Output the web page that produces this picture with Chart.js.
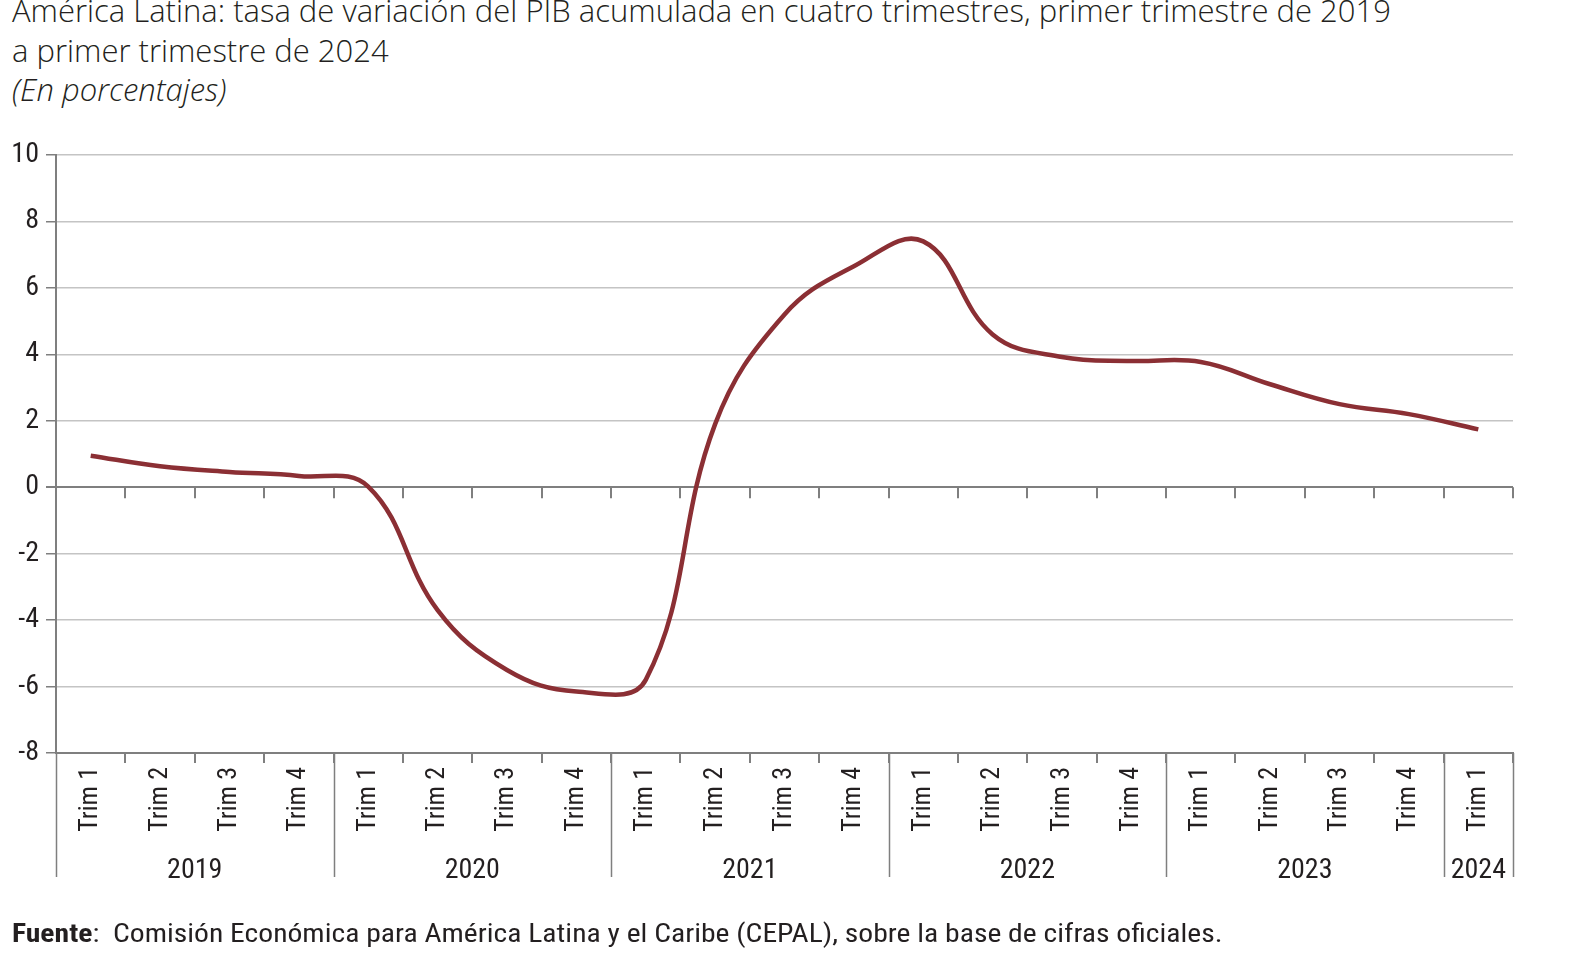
<!DOCTYPE html>
<html>
<head>
<meta charset="utf-8">
<script src="https://cdn.jsdelivr.net/npm/chart.js@4/dist/chart.umd.min.js"></script>
<style>
  body { margin: 0; background: #fff; width: 1589px; height: 964px; overflow: hidden; position: relative; }
  #grafico { position: absolute; left: 0; top: 0; }
  .titulo { position: absolute; left: 12px; font-family: 'Open Sans', sans-serif; font-weight: 300; font-size: 31px; line-height: 31px; color: #231f20; white-space: nowrap; }
  .nota { position: absolute; left: 12px; top: 920px; font-family: Roboto, sans-serif; font-stretch: condensed; font-size: 26px; line-height: 26px; color: #231f20; white-space: nowrap; transform: scaleX(1.14); transform-origin: 0 0; }
</style>
</head>
<body>
<div class="titulo" style="top:-5px">América Latina: tasa de variación del PIB acumulada en cuatro trimestres, primer trimestre de 2019</div>
<div class="titulo" style="top:35px">a primer trimestre de 2024</div>
<div class="titulo" style="top:74px; font-style:italic">(En porcentajes)</div>
<canvas id="grafico" width="1589" height="964"></canvas>
<div class="nota"><b>Fuente</b>:&nbsp; Comisión Económica para América Latina y el Caribe (CEPAL), sobre la base de cifras oficiales.</div>

<script>
// trimestres (eje x) y años que los agrupan
const trimestres = ['Trim 1','Trim 2','Trim 3','Trim 4',
                    'Trim 1','Trim 2','Trim 3','Trim 4',
                    'Trim 1','Trim 2','Trim 3','Trim 4',
                    'Trim 1','Trim 2','Trim 3','Trim 4',
                    'Trim 1','Trim 2','Trim 3','Trim 4',
                    'Trim 1'];
const anios = ['2019','2020','2021','2022','2023','2024'];
const trimPorAnio = [4, 4, 4, 4, 4, 1];

// tasa de variacion del PIB (%)
const pib = [0.95, 0.63, 0.46, 0.34,
             0.02, -3.7, -5.5, -6.15,
             -5.8, 1.9, 5.2, 6.65,
             7.4, 4.6, 3.92, 3.8,
             3.77, 3.1, 2.5, 2.2,
             1.74];

const yMin = -8, yMax = 10, yPaso = 2;

const FUENTE = 'Roboto, sans-serif';
const GRIS_EJE = '#7f7f7f';
const GRIS_GRILLA = '#c4c4c4';
const TEXTO = '#231f20';

// marcas del eje en 0, lineas separadoras de años y etiquetas de año
const marcasAnios = {
	id: 'marcasAnios',
	beforeDatasetsDraw(chart) {
		const ctx = chart.ctx;
		const xs = chart.scales.x;
		const ys = chart.scales.y;
		const area = chart.chartArea;
		const y0 = ys.getPixelForValue(0);
		const yBase = area.bottom;
		const n = trimestres.length;

		// borde entre categoria k-1 y k
		function borde(k) {
			if (k <= 0) return area.left;
			if (k >= n) return area.right;
			return (xs.getPixelForValue(k - 1) + xs.getPixelForValue(k)) / 2;
		}

		ctx.save();
		ctx.strokeStyle = GRIS_EJE;
		ctx.lineWidth = 2;
		ctx.beginPath();
		for (let k = 1; k <= n; k++) {
			const x = Math.round(borde(k));
			ctx.moveTo(x, y0);
			ctx.lineTo(x, y0 + 11);
			ctx.moveTo(x, yBase);
			ctx.lineTo(x, yBase + 10);
		}
		ctx.stroke();

		// separadores de años
		ctx.lineWidth = 1.5;
		ctx.beginPath();
		let k = 0;
		const bordesAnio = [0];
		for (let i = 0; i < trimPorAnio.length; i++) {
			k += trimPorAnio[i];
			bordesAnio.push(k);
		}
		bordesAnio.forEach(function (b) {
			const x = Math.round(borde(b)) + 0.5;
			ctx.moveTo(x, yBase);
			ctx.lineTo(x, yBase + 124);
		});
		ctx.stroke();

		// etiquetas de año
		ctx.fillStyle = TEXTO;
		ctx.font = 'normal condensed 28px ' + FUENTE;
		ctx.textAlign = 'center';
		ctx.textBaseline = 'alphabetic';
		for (let i = 0; i < anios.length; i++) {
			const xc = (borde(bordesAnio[i]) + borde(bordesAnio[i + 1])) / 2;
			ctx.fillText(anios[i], xc, yBase + 125);
		}
		ctx.restore();
	}
};

new Chart(document.getElementById('grafico'), {
	type: 'line',
	data: {
		labels: trimestres,
		datasets: [
			{
				data: pib,
				borderColor: '#8b2f34',
				borderWidth: 4.5,
				pointRadius: 0,
				tension: 0.4,
				fill: false,
			},
		]
	},
	options: {
		responsive: false,
		animation: false,
		layout: { padding: { top: 155, right: 76, left: 0, bottom: 0 } },
		plugins: {
			legend: { display: false },
			tooltip: { enabled: false },
		},
		scales: {
			x: {
				offset: true,
				grid: { display: false, drawTicks: false },
				border: { display: true, color: GRIS_EJE, width: 2 },
				ticks: {
					autoSkip: false,
					minRotation: 90,
					maxRotation: 90,
					padding: 14,
					color: TEXTO,
					// "condensed" entra en la cadena de fuente del canvas
					font: { family: FUENTE, size: 26, weight: 'condensed' },
				},
				afterFit(scale) { scale.height = 211; }
			},
			y: {
				min: yMin,
				max: yMax,
				ticks: {
					stepSize: yPaso,
					padding: 7,
					color: TEXTO,
					font: { family: FUENTE, size: 28, weight: 'condensed' },
				},
				grid: {
					color: function (c) { return (c.tick && (c.tick.value === 0 || c.tick.value === yMin)) ? GRIS_EJE : GRIS_GRILLA; },
					lineWidth: function (c) { return (c.tick && c.tick.value === 0) ? 2 : 1.5; },
					tickLength: 10,
					tickColor: GRIS_EJE,
				},
				border: { display: true, color: GRIS_EJE, width: 2 },
				afterFit(scale) { scale.width = 56; }
			}
		}
	},
	plugins: [marcasAnios]
});
</script>
</body>
</html>
